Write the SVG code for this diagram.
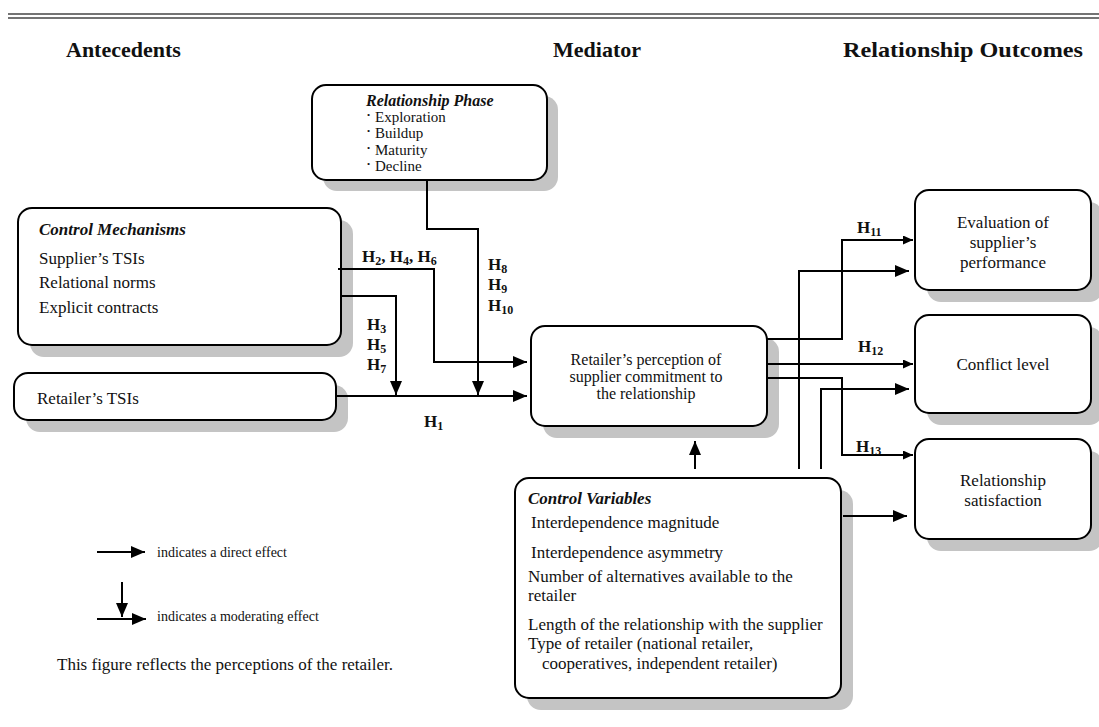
<svg xmlns="http://www.w3.org/2000/svg" width="1099" height="727" viewBox="0 0 1099 727">
<style>
text{font-family:"Liberation Serif","Times New Roman",serif;fill:#111;}
.t{font-size:17px;}
.m{font-size:16px;}
.p{font-size:15px;}
.hd{font-size:22px;font-weight:bold;}
.bi{font-size:17px;font-weight:bold;font-style:italic;}
.bip{font-size:16px;font-weight:bold;font-style:italic;}
.h{font-size:17px;font-weight:bold;}
.sub{font-size:12px;}
.lg{font-size:14px;}
.box{fill:#fff;stroke:#000;stroke-width:2;}
.sh{fill:#c4c4c4;}
.ln{fill:none;stroke:#000;stroke-width:2;}
.bul{font-size:9px;}
</style>
<defs>
<marker id="big" markerUnits="userSpaceOnUse" markerWidth="14" markerHeight="12" refX="14" refY="6" orient="auto">
<path d="M0,0 L14,6 L0,12 Z" fill="#000"/>
</marker>
<marker id="small" markerUnits="userSpaceOnUse" markerWidth="10" markerHeight="9" refX="10" refY="4.5" orient="auto">
<path d="M0,0 L10,4.5 L0,9 Z" fill="#000"/>
</marker>
</defs>
<rect width="1099" height="727" fill="#fff"/>
<g id="topline">
<line x1="8" y1="14" x2="1099" y2="14" stroke="#444" stroke-width="1.6"/>
<line x1="8" y1="18" x2="1099" y2="18" stroke="#444" stroke-width="1.6"/>
</g>
<g id="headers">
<text class="hd" x="66" y="57">Antecedents</text>
<text class="hd" x="553" y="57">Mediator</text>
<text class="hd" x="843" y="57" textLength="240" lengthAdjust="spacingAndGlyphs">Relationship Outcomes</text>
</g>
<g id="phase">
<rect class="sh" x="323" y="96" width="235" height="95" rx="14"/>
<rect class="box" x="312" y="85" width="235" height="95" rx="14"/>
<text class="bip" x="366" y="106">Relationship Phase</text>
<text class="p" x="367" y="122"><tspan class="bul" dy="-4">•</tspan><tspan x="375" dy="4">Exploration</tspan></text>
<text class="p" x="367" y="138"><tspan class="bul" dy="-4">•</tspan><tspan x="375" dy="4">Buildup</tspan></text>
<text class="p" x="367" y="155"><tspan class="bul" dy="-4">•</tspan><tspan x="375" dy="4">Maturity</tspan></text>
<text class="p" x="367" y="171"><tspan class="bul" dy="-4">•</tspan><tspan x="375" dy="4">Decline</tspan></text>
</g>
<g id="control-mechanisms">
<rect class="sh" x="30" y="220" width="323" height="137" rx="14"/>
<rect class="box" x="18" y="208" width="323" height="137" rx="14"/>
<text class="bi" x="39" y="235">Control Mechanisms</text>
<text class="t" x="39" y="264">Supplier’s TSIs</text>
<text class="t" x="39" y="288">Relational norms</text>
<text class="t" x="39" y="313">Explicit contracts</text>
</g>
<g id="retailer-tsis">
<rect class="sh" x="26" y="385" width="322" height="47" rx="14"/>
<rect class="box" x="14" y="373" width="322" height="47" rx="14"/>
<text class="t" x="37" y="404">Retailer’s TSIs</text>
</g>
<g id="mediator">
<rect class="sh" x="543" y="338" width="236" height="100" rx="14"/>
<rect class="box" x="531" y="326" width="236" height="100" rx="14"/>
<text class="m" x="646" y="365" text-anchor="middle">Retailer’s perception of</text>
<text class="m" x="646" y="382" text-anchor="middle">supplier commitment to</text>
<text class="m" x="646" y="399" text-anchor="middle">the relationship</text>
</g>
<g id="evaluation">
<rect class="sh" x="927" y="202" width="176" height="100" rx="14"/>
<rect class="box" x="915" y="190" width="176" height="100" rx="14"/>
<text class="t" x="1003" y="228" text-anchor="middle">Evaluation of</text>
<text class="t" x="1003" y="248" text-anchor="middle">supplier’s</text>
<text class="t" x="1003" y="268" text-anchor="middle">performance</text>
</g>
<g id="conflict">
<rect class="sh" x="927" y="327" width="176" height="98" rx="14"/>
<rect class="box" x="915" y="315" width="176" height="98" rx="14"/>
<text class="t" x="1003" y="370" text-anchor="middle">Conflict level</text>
</g>
<g id="satisfaction">
<rect class="sh" x="927" y="451" width="176" height="100" rx="14"/>
<rect class="box" x="915" y="439" width="176" height="100" rx="14"/>
<text class="t" x="1003" y="486" text-anchor="middle">Relationship</text>
<text class="t" x="1003" y="506" text-anchor="middle">satisfaction</text>
</g>
<g id="control-variables">
<rect class="sh" x="527" y="490" width="326" height="220" rx="14"/>
<rect class="box" x="515" y="478" width="326" height="220" rx="14"/>
<text class="bi" x="528" y="504">Control Variables</text>
<text class="t" x="531" y="528">Interdependence magnitude</text>
<text class="t" x="531" y="558">Interdependence asymmetry</text>
<text class="t" x="528" y="582">Number of alternatives available to the</text>
<text class="t" x="528" y="601">retailer</text>
<text class="t" x="528" y="630">Length of the relationship with the supplier</text>
<text class="t" x="528" y="649">Type of retailer (national retailer,</text>
<text class="t" x="542" y="669">cooperatives, independent retailer)</text>
</g>
<g id="connectors">
<path class="ln" d="M336,396 H527" marker-end="url(#big)"/>
<path class="ln" d="M338,269 H434 V362 H527" marker-end="url(#big)"/>
<path class="ln" d="M342,296 H396 V395" marker-end="url(#big)"/>
<path class="ln" d="M427,180 V229 H478 V395" marker-end="url(#big)"/>
<path class="ln" d="M767,339 H842 V240 H913" marker-end="url(#small)"/>
<path class="ln" d="M767,364 H913" marker-end="url(#small)"/>
<path class="ln" d="M767,378 H842 V455 H913" marker-end="url(#small)"/>
<path class="ln" d="M799,469 V271 H909" marker-end="url(#big)"/>
<path class="ln" d="M821,469 V389 H909" marker-end="url(#big)"/>
<path class="ln" d="M843,516 H907" marker-end="url(#big)"/>
<path class="ln" d="M695,469 V441" marker-end="url(#big)"/>
</g>
<g id="labels">
<text class="h" x="362" y="262">H<tspan class="sub" dy="3">2</tspan><tspan dy="-3">, H</tspan><tspan class="sub" dy="3">4</tspan><tspan dy="-3">, H</tspan><tspan class="sub" dy="3">6</tspan></text>
<text class="h" x="488" y="270">H<tspan class="sub" dy="3">8</tspan></text>
<text class="h" x="488" y="290">H<tspan class="sub" dy="3">9</tspan></text>
<text class="h" x="488" y="311">H<tspan class="sub" dy="3">10</tspan></text>
<text class="h" x="367" y="330">H<tspan class="sub" dy="3">3</tspan></text>
<text class="h" x="367" y="350">H<tspan class="sub" dy="3">5</tspan></text>
<text class="h" x="367" y="370">H<tspan class="sub" dy="3">7</tspan></text>
<text class="h" x="424" y="427">H<tspan class="sub" dy="3">1</tspan></text>
<text class="h" x="857" y="233">H<tspan class="sub" dy="3">11</tspan></text>
<text class="h" x="858" y="352">H<tspan class="sub" dy="3">12</tspan></text>
<text class="h" x="856" y="452">H<tspan class="sub" dy="3">13</tspan></text>
</g>
<g id="legend">
<path class="ln" d="M97,552 H145" marker-end="url(#big)"/>
<text class="lg" x="157" y="557">indicates a direct effect</text>
<path class="ln" d="M122,582 V617" marker-end="url(#big)"/>
<path class="ln" d="M97,619 H146" marker-end="url(#big)"/>
<text class="lg" x="157" y="621">indicates a moderating effect</text>
<text class="t" x="57" y="670">This figure reflects the perceptions of the retailer.</text>
</g>
</svg>
